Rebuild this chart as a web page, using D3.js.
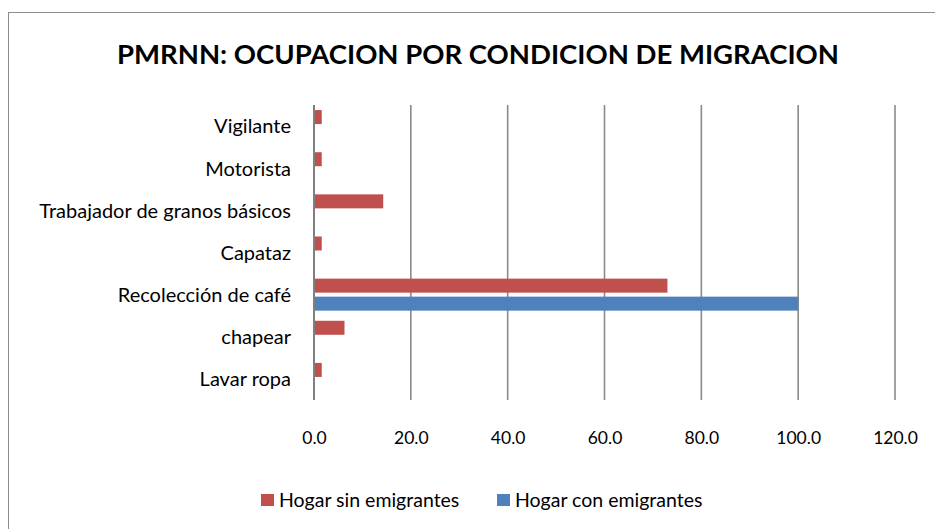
<!DOCTYPE html>
<html><head><meta charset="utf-8">
<script src="https://cdn.jsdelivr.net/npm/d3@7"></script>
<style>
html,body{margin:0;padding:0;background:#fff;}
svg{display:block;font-family:Lato, "Open Sans", sans-serif;}
</style></head>
<body><svg id="c" width="935" height="529"></svg>
<script>
const title = "PMRNN: OCUPACION POR CONDICION DE MIGRACION";
const categories = ["Vigilante","Motorista","Trabajador de granos básicos","Capataz","Recolección de café","chapear","Lavar ropa"];
const seriesNames = ["Hogar sin emigrantes","Hogar con emigrantes"];
const sinEmigrantes = [1.6, 1.6, 14.3, 1.6, 73.0, 6.3, 1.6];
const conEmigrantes = [0, 0, 0, 0, 100.0, 0, 0];
const xTicks = [0, 20, 40, 60, 80, 100, 120];
const colors = ["#C0504D", "#4F81BD"];

const svg = d3.select("#c");
svg.append("rect").attr("x",8.5).attr("y",12.5).attr("width",1000).attr("height",600)
  .attr("fill","none").attr("stroke","#8c8c8c").attr("stroke-width",1);

svg.append("text").attr("x",478).attr("y",64).attr("text-anchor","middle")
  .attr("font-weight","bold").attr("font-size",27.5).attr("fill","#000").text(title);

const x = d3.scaleLinear().domain([0,120]).range([314,895]);
const y = d3.scaleBand().domain(categories).range([105,400]);
const barH = 14, barGap = 2;

svg.append("g").selectAll("line").data(xTicks.slice(1)).join("line")
  .attr("x1",d=>x(d)).attr("x2",d=>x(d)).attr("y1",105).attr("y2",400)
  .attr("stroke","#8a8a8a").attr("stroke-width",1.6);

const series = [sinEmigrantes, conEmigrantes];
series.forEach((vals,si)=>{
  svg.append("g").selectAll("rect").data(vals.map((v,i)=>({v,c:categories[i]})).filter(d=>d.v>0)).join("rect")
    .attr("x",x(0)).attr("width",d=>x(d.v)-x(0))
    .attr("y",d=>y(d.c)+y.bandwidth()/2 + (si===0 ? -barH-barGap : barGap))
    .attr("height",barH).attr("fill",colors[si]);
});

svg.append("line").attr("x1",x(0)).attr("x2",x(0)).attr("y1",105).attr("y2",400)
  .attr("stroke","#7f7f7f").attr("stroke-width",2);

const xAxis = d3.axisBottom(x).tickValues(xTicks).tickFormat(d3.format(".1f")).tickSize(0).tickPadding(0);
const gx = svg.append("g").attr("transform","translate(0,432)").call(xAxis);
gx.select(".domain").remove();
gx.selectAll("text").attr("font-size",17.5).attr("fill","#000").attr("font-family","Lato");

const yAxis = d3.axisLeft(y).tickSize(0).tickPadding(0);
const gy = svg.append("g").attr("transform","translate(291,1)").call(yAxis);
gy.select(".domain").remove();
gy.selectAll("text").attr("font-size",20).attr("fill","#000").attr("font-family","Lato");

const leg = [{n:seriesNames[0],c:colors[0],x:261},{n:seriesNames[1],c:colors[1],x:497}];
const lg = svg.append("g");
leg.forEach(l=>{
  lg.append("rect").attr("x",l.x).attr("y",494).attr("width",13).attr("height",12).attr("fill",l.c);
  lg.append("text").attr("x",l.x+18).attr("y",507).attr("font-size",19.5).attr("fill","#000").text(l.n);
});
</script></body></html>
